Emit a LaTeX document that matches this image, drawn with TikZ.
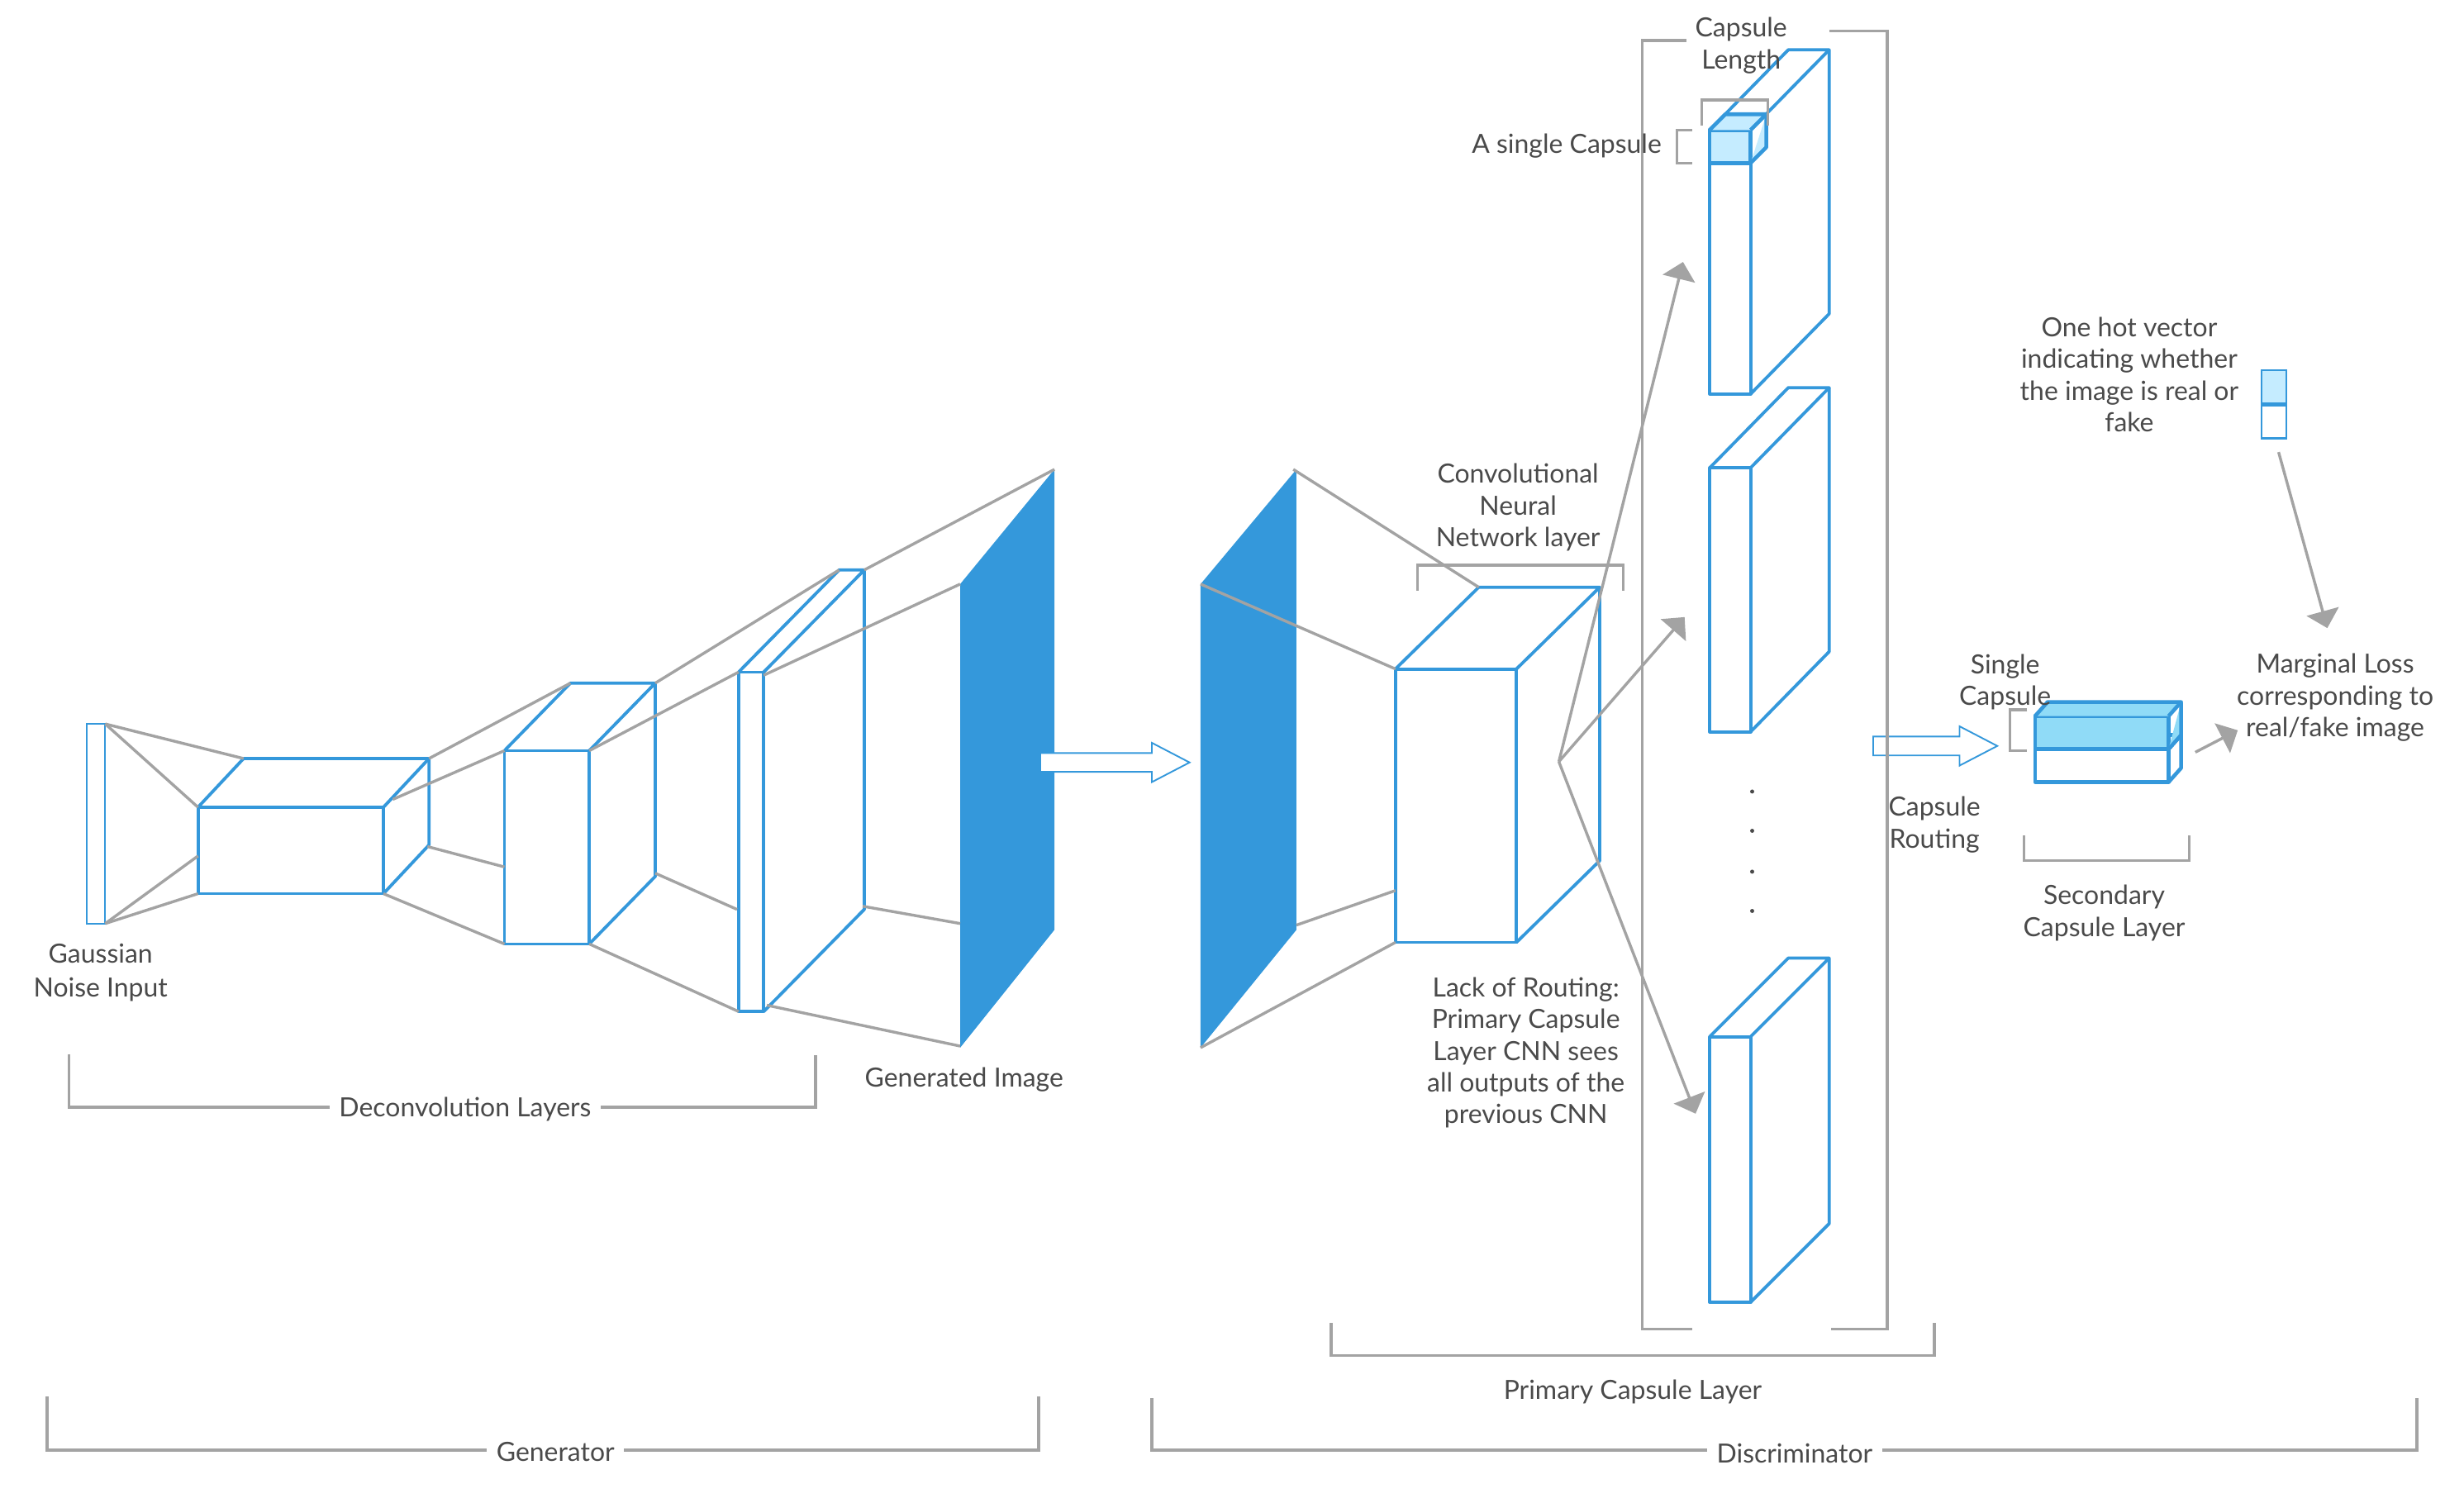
\documentclass[tikz,border=0pt]{standalone}
\usepackage{fontspec}
\setmainfont{Lato}
\usetikzlibrary{arrows.meta, positioning, shapes.arrows}
\definecolor{capblue}{HTML}{3498DB}
\definecolor{capgray}{HTML}{A3A3A3}
\definecolor{captext}{HTML}{4A4A4A}
\definecolor{caplight}{HTML}{C5ECFF}
\definecolor{capmid}{HTML}{90DBF7}
\tikzset{
  layer/.style={draw=capblue, line width=2pt, line join=round},
  link/.style={draw=capgray, line width=1.8pt},
  brace/.style={draw=capgray, line width=1.8pt},
  flow/.style={draw=capgray, line width=1.8pt, -{Triangle[length=11pt,width=21pt]}},
  label/.style={text=captext, font=\fontsize{16.8}{20.2}\selectfont, align=center, inner sep=0pt, yshift=-1.2pt},
  gaplabel/.style={label, fill=white, inner xsep=6pt, inner ysep=3pt},
  hollow/.style={single arrow, draw=capblue, fill=white, line width=1pt, inner sep=5.5pt,
    single arrow head extend=6.5pt, single arrow tip angle=55, outer sep=0pt, anchor=tail}
}
% front corners a b c d, back corners e f g
\newcommand{\cuboid}[8][none]{
  \coordinate (#2-a) at (#3,#4);
  \coordinate (#2-b) at (#5,#4);
  \coordinate (#2-c) at (#5,#6);
  \coordinate (#2-d) at (#3,#6);
  \coordinate (#2-e) at ({#3+#7},{#4+#8});
  \coordinate (#2-f) at ({#5+#7},{#4+#8});
  \coordinate (#2-g) at ({#5+#7},{#6+#8});
  \draw[layer, fill=#1] (#2-a) -- (#2-b) -- (#2-c) -- (#2-d) -- cycle;
  \draw[layer, fill=#1] (#2-a) -- (#2-e) -- (#2-f) -- (#2-b);
  \draw[layer, fill=#1] (#2-f) -- (#2-g) -- (#2-c);
}
\begin{document}
\begin{tikzpicture}[x=1pt, y=-1pt]
\useasboundingbox (0,-0.7) rectangle (1568,955.3);

% images
\fill[capblue] (611,371) -- (671,298) -- (671,591) -- (611,666) -- cycle;
\fill[capblue] (764,371) -- (825,298) -- (825,591) -- (764,666) -- cycle;
\coordinate (gen-a) at (611,371);
\coordinate (gen-b) at (671,298);
\coordinate (gen-c) at (611,587);
\coordinate (gen-d) at (611,665);
\coordinate (dis-a) at (764,371);
\coordinate (dis-b) at (823,298);
\coordinate (dis-c) at (825,588);
\coordinate (dis-d) at (764,666);

% input
\node[draw=capblue, line width=1pt, minimum width=12pt, minimum height=127pt, inner sep=0pt, outer sep=0pt] (noise) at (61,523.5) {};

% links
\coordinate (a1) at (126,544);
\coordinate (a2) at (250,508);
\coordinate (a3) at (272,538);
\coordinate (a4) at (321,551);
\coordinate (a5) at (417,555);
\coordinate (a6) at (469,578);
\coordinate (a7) at (549,576);
\coordinate (a8) at (488,639);
\coordinate (a9) at (486,429);
\coordinate (a10) at (888,566);

% deconvolution layers
\cuboid{deca}{126}{513}{244}{568}{29}{-31}
\cuboid{decb}{321}{477}{375}{600}{42}{-43}
\cuboid{decc}{470}{427}{486}{643}{64}{-65}
\cuboid{cnn}{888}{425}{965}{599}{53}{-52}

% capsules
\cuboid{capa}{1088}{82}{1114}{250}{50}{-51}
\cuboid{capb}{1088}{297}{1114}{465}{50}{-51}
\cuboid{capc}{1088}{659}{1114}{828}{50}{-50}
\begin{scope}[layer/.append style={line width=2.4pt}]
\cuboid[caplight]{single}{1088}{82}{1114}{103}{10}{-10}
\cuboid{secb}{1295}{476}{1380}{497}{8}{-9}
\cuboid[capmid]{seca}{1295}{455}{1380}{476}{8}{-9}
\end{scope}

% vector
\node[draw=capblue, line width=1.2pt, fill=caplight, minimum width=16pt, minimum height=21pt, inner sep=0pt] (veca) at (1447,245.5) {};
\node[draw=capblue, line width=1.2pt, minimum width=16pt, minimum height=21pt, inner sep=0pt, below=0pt of veca] (vecb) {};

\draw[link] (noise.north east) -- (deca-e);
\draw[link] (noise.north east) -- (deca-a);
\draw[link] (noise.south east) -- (a1);
\draw[link] (noise.south east) -- (deca-d);
\draw[link] (deca-f) -- (decb-e);
\draw[link] (a2) -- (decb-a);
\draw[link] (a3) -- (a4);
\draw[link] (deca-c) -- (decb-d);
\draw[link] (decb-f) -- (decc-e);
\draw[link] (decb-b) -- (decc-a);
\draw[link] (a5) -- (a6);
\draw[link] (decb-c) -- (decc-d);
\draw[link] (decc-f) -- (gen-b);
\draw[link] (a9) -- (gen-a);
\draw[link] (a7) -- (gen-c);
\draw[link] (a8) -- (gen-d);
\draw[link] (dis-b) -- (cnn-e);
\draw[link] (dis-a) -- (cnn-a);
\draw[link] (dis-c) -- (a10);
\draw[link] (dis-d) -- (cnn-d);

% routing
\coordinate (hub) at (992,484);
\coordinate (t1) at (1071,166);
\coordinate (t2) at (1072,392);
\coordinate (t3) at (1079,708);
\draw[flow] (hub) -- (t1);
\draw[flow] (hub) -- (t2);
\draw[flow] (hub) -- (t3);
\coordinate (o1) at (1450,287);
\coordinate (o2) at (1481,399);
\coordinate (o3) at (1397,478);
\coordinate (o4) at (1424,464);
\draw[flow] (o1) -- (o2);
\draw[flow] (o3) -- (o4);

% hollow arrows
\node[hollow, minimum width=25pt, minimum height=95pt] (push) at (662,484.5) {};
\node[hollow, minimum width=25pt, minimum height=79pt] (route) at (1192,474) {};

% brackets
\draw[brace] (1073,25) -- (1045,25) -- (1045,845) -- (1077,845);
\draw[brace] (1164,19) -- (1201,19) -- (1201,845) -- (1165,845);
\draw[brace] (1083,79) -- (1083,63) -- (1125,63) -- (1125,79);
\draw[brace] (1077,82) -- (1067,82) -- (1067,103) -- (1077,103);
\draw[brace] (902,375) -- (902,359) -- (1033,359) -- (1033,375);
\draw[brace] (847,841) -- (847,862) -- (1231,862) -- (1231,841);
\draw[brace] (1290,451) -- (1279,451) -- (1279,477) -- (1290,477);
\draw[brace] (1288,531) -- (1288,547) -- (1393,547) -- (1393,531);
\draw[brace] (44,670) -- (44,704) -- (519,704) -- (519,671);
\draw[brace] (30,888) -- (30,922) -- (661,922) -- (661,888);
\draw[brace] (733,889) -- (733,922) -- (1538,922) -- (1538,889);

% dots
\foreach \y in {503,528,554,579}
  \fill[captext] (1115,\y) circle (1.3pt);

% labels
\node[label, font=\fontsize{16.8}{22}\selectfont] (gauss) at (64,617) {Gaussian\\Noise Input};
\node[gaplabel] (deconv) at (296,704) {Deconvolution Layers};
\node[label] (genimg) at (613.5,685) {Generated Image};
\node[gaplabel] (gener) at (353.5,922) {Generator};
\node[gaplabel] (discr) at (1142,923) {Discriminator};
\node[label] (prim) at (1039,884) {Primary Capsule Layer};
\node[label] (conv) at (966,321) {Convolutional\\Neural\\Network layer};
\node[label] (lack) at (971,668) {Lack of Routing:\\Primary Capsule\\Layer CNN sees\\all outputs of the\\previous CNN};
\node[label] (length) at (1108,27) {Capsule\\Length};
\node[label] (singlec) at (997,91) {A single Capsule};
\node[label] (onehot) at (1355,236.5) {One hot vector\\indicating whether\\the image is real or\\fake};
\node[label] (secsingle) at (1276,432) {Single\\Capsule};
\node[label] (routing) at (1231,523) {Capsule\\Routing};
\node[label] (second) at (1339,579) {Secondary\\Capsule Layer};
\node[label] (margin) at (1486,442) {Marginal Loss\\corresponding to\\real/fake image};
\end{tikzpicture}
\end{document}
